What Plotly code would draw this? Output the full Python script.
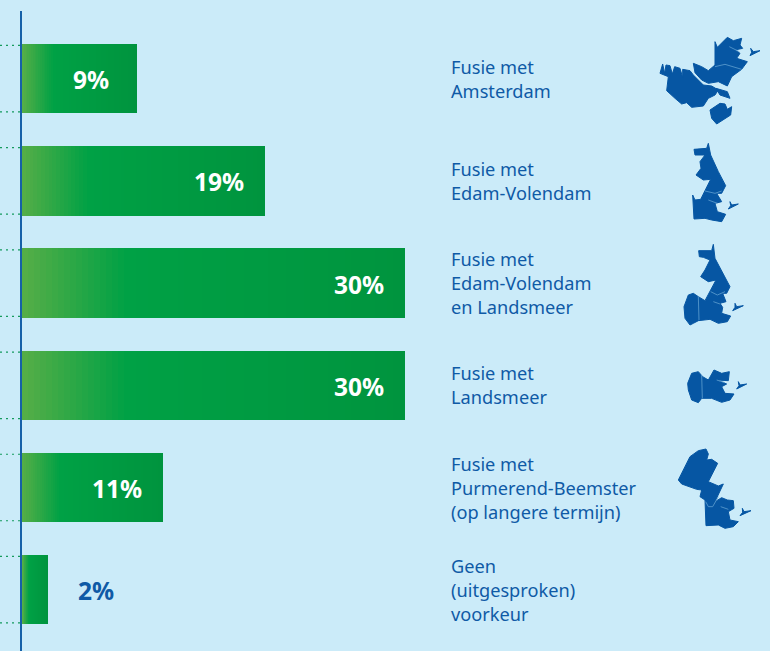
import plotly.graph_objects as go

categories = ["Fusie met Amsterdam", "Fusie met Edam-Volendam", "Fusie met Edam-Volendam en Landsmeer",
              "Fusie met Landsmeer", "Fusie met Purmerend-Beemster (op langere termijn)", "Geen (uitgesproken) voorkeur"]
values = [9, 19, 30, 30, 11, 2]
value_labels = ["9%", "19%", "30%", "30%", "11%", "2%"]
label_lines = [["Fusie met", "Amsterdam"], ["Fusie met", "Edam-Volendam"],
               ["Fusie met", "Edam-Volendam", "en Landsmeer"], ["Fusie met", "Landsmeer"],
               ["Fusie met", "Purmerend-Beemster", "(op langere termijn)"],
               ["Geen", "(uitgesproken)", "voorkeur"]]

W, H = 770, 651
BG = "#cbebf9"
BLUE = "#0f5aa6"
MAPBLUE = "#0656a3"
PALE = "#5f9fd0"
PX_PER_UNIT = 12.78
X0_PX = 22
PITCH = 102.2
Y0_PX = 78.7
BAR_H = 69.5
positions = list(range(len(categories)))

def lerp(a, b, t):
    return tuple(a[i] + (b[i] - a[i]) * t for i in range(3))

C1, C2, C3 = (86, 174, 71), (0, 161, 69), (0, 148, 62)
def grad(f):
    if f < 0.27:
        c = lerp(C1, C2, f / 0.27)
    else:
        c = lerp(C2, C3, (f - 0.27) / 0.73)
    return "rgb(%d,%d,%d)" % tuple(round(v) for v in c)

fig = go.Figure()
N = 64
for k in range(N, 0, -1):
    f = k / N
    fig.add_trace(go.Bar(y=positions, x=[v * f for v in values], orientation="h",
                         width=BAR_H / PITCH, marker=dict(color=grad(f - 0.5 / N), line_width=0),
                         showlegend=False, hoverinfo="skip", name="aandeel"))

# dotted leader ticks at the top and bottom edge of each bar
half = (BAR_H - 3) / 2 / PITCH
for i in positions:
    for sgn in (-1, 1):
        fig.add_trace(go.Scatter(x=[-X0_PX / PX_PER_UNIT, -0.15], y=[i + sgn * half] * 2, mode="lines",
                                 line=dict(color="#159a5e", width=1.2, dash="2px,4px"),
                                 showlegend=False, hoverinfo="skip"))

annotations = []
for i, (v, t) in enumerate(zip(values, value_labels)):
    inside = v > 5
    annotations.append(dict(x=v, y=i, text=t, showarrow=False, xanchor="center", yanchor="middle",
                            xshift=-46 if inside else 48, yshift=-1,
                            font=dict(family="Noto Sans", size=24.5, weight=700, color="white" if inside else BLUE)))
    lines = label_lines[i]
    for j, line in enumerate(lines):
        annotations.append(dict(x=0, y=i, text=line, showarrow=False, xanchor="left", yanchor="middle",
                                xshift=451 - X0_PX - 2, yshift=-(j - (len(lines) - 1) / 2) * 24,
                                font=dict(family="Noto Sans", size=18.2, color=BLUE)))

# decorative map icons, outlined in pixels of the reference zoom crops
def path(points, ox, oy, close=True):
    d = "M" + "L".join("%.5f,%.5f" % ((ox + x / 3) / W, 1 - (oy + y / 3) / H) for x, y in points)
    return d + ("Z" if close else "")

maps_a = [
    [(60,160),(68,132),(74,160),(78,135),(90,137),(97,162),(104,140),(120,145),(128,172),(128,148),(150,152),(160,165),(175,180),(190,195),(215,198),(235,210),(225,225),(205,235),(190,258),(155,262),(140,248),(125,252),(105,235),(80,212),(85,170)],
    [(160,130),(185,140),(205,152),(225,135),(225,65),(232,82),(262,52),(280,62),(305,55),(300,75),(308,85),(285,90),(300,100),(290,115),(322,125),(305,148),(275,170),(262,198),(235,185),(205,190),(185,180),(165,158)],
    [(240,250),(255,252),(262,268),(275,260),(272,285),(230,312),(215,295),(210,270)],
    [(332,85),(340,95),(360,92),(330,107),(335,97)],
    [(228,205),(262,215),(270,235),(240,225)],
    [(205,370),(212,405),(235,455),(257,497),(245,520),(230,520),(245,545),(225,550),(232,575),(257,583),(245,605),(215,600),(195,595),(162,597),(158,525),(165,540),(182,538),(212,478),(190,480),(168,465),(183,445),(180,425),(195,405),(165,405),(162,388),(200,385)],
    [(270,545),(275,555),(295,552),(265,567),(272,557)],
]
seams_a = [
    [(225,140),(255,133),(305,148)],
    [(268,80),(298,95)],
    [(195,513),(225,520),(245,513)],
    [(205,540),(232,550)],
]
maps_b = [
    [(220,43),(225,85),(270,170),(260,190),(248,190),(258,215),(240,220),(248,232),(245,250),(272,258),(262,275),(235,280),(210,268),(175,272),(160,280),(150,285),(135,265),(132,230),(145,195),(160,190),(175,200),(195,212),(228,150),(205,155),(182,140),(195,120),(210,90),(190,82),(178,80),(176,62),(215,62)],
    [(285,220),(290,230),(310,227),(278,242),(285,232)],
    [(155,430),(175,425),(188,440),(205,450),(222,420),(245,430),(268,425),(265,452),(230,450),(260,462),(245,470),(255,490),(282,492),(270,510),(245,517),(215,505),(185,505),(175,518),(155,510),(145,480),(143,460)],
    [(295,455),(300,465),(320,462),(290,477),(297,467)],
    [(198,657),(205,672),(200,690),(215,688),(233,700),(205,755),(235,768),(250,762),(225,815),(245,803),(262,810),(280,812),(282,835),(265,845),(270,870),(295,875),(280,890),(255,895),(235,885),(198,887),(195,810),(180,800),(185,780),(170,778),(125,762),(115,750),(150,680),(175,662)],
    [(307,835),(312,845),(333,842),(300,857),(308,847)],
]
seams_b = [
    [(175,200),(177,270)],
    [(212,185),(232,195),(255,185)],
    [(220,215),(240,222)],
    [(185,435),(187,505)],
    [(230,450),(255,458)],
    [(197,815),(205,830),(218,830),(235,800)],
    [(242,830),(265,838)],
]
shapes = [dict(type="line", xref="x", yref="paper", x0=-1 / PX_PER_UNIT, x1=-1 / PX_PER_UNIT, y0=0, y1=1 - 11 / H,
               line=dict(color="#1560a8", width=2), layer="above")]
for group, oy in ((maps_a, 20), (maps_b, 230)):
    for p in group:
        shapes.append(dict(type="path", xref="paper", yref="paper", path=path(p, 640, oy),
                           fillcolor=MAPBLUE, line=dict(color=MAPBLUE, width=1)))
for group, oy in ((seams_a, 20), (seams_b, 230)):
    for p in group:
        shapes.append(dict(type="path", xref="paper", yref="paper", path=path(p, 640, oy, close=False),
                           line=dict(color=PALE, width=0.8)))

fig.update_layout(
    width=W, height=H, margin=dict(l=0, r=0, t=0, b=0), autosize=False,
    paper_bgcolor=BG, plot_bgcolor=BG, barmode="overlay", bargap=0,
    showlegend=False, annotations=annotations, shapes=shapes,
    xaxis=dict(range=[-X0_PX / PX_PER_UNIT, (W - X0_PX) / PX_PER_UNIT], visible=False, fixedrange=True),
    yaxis=dict(type="linear", range=[(H - Y0_PX) / PITCH, -Y0_PX / PITCH], visible=False, fixedrange=True),
)
fig.write_html("out.html", config=dict(displayModeBar=False),
               post_script="document.documentElement.style.margin='0';document.body.style.margin='0';"
                           "document.body.style.overflow='hidden';document.body.style.background='%s';" % BG)
